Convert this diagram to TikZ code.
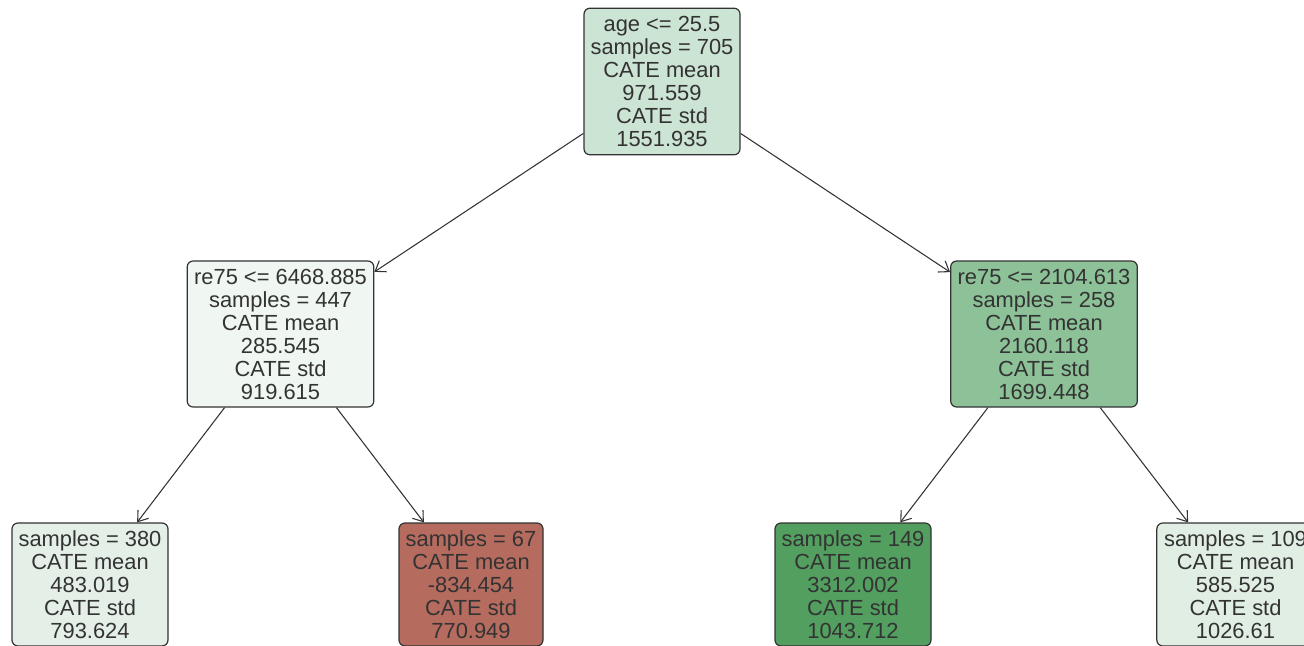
\documentclass[tikz,border=0pt]{standalone}
\usepackage{fontspec}
\setmainfont{Liberation Sans}
\usetikzlibrary{arrows.meta}

\definecolor{rootfill}{RGB}{204,228,212}
\definecolor{leftfill}{RGB}{240,246,241}
\definecolor{rightfill}{RGB}{141,193,151}
\definecolor{llfill}{RGB}{228,240,231}
\definecolor{lrfill}{RGB}{181,107,94}
\definecolor{rlfill}{RGB}{82,159,96}
\definecolor{rrfill}{RGB}{225,238,228}
\definecolor{inkgray}{RGB}{51,51,51}

\begin{document}
\begin{tikzpicture}[x=0.75pt,y=-0.75pt,
  treenode/.style={rectangle,draw=inkgray,rounded corners=4.5pt,line width=0.9pt,
    align=center,text=inkgray,inner sep=0pt,font=\fontsize{16.4}{17.25}\selectfont},
  split/.style={draw=inkgray,line width=0.8pt,-{Straight Barb[length=7pt,width=10pt]}}]
\useasboundingbox (0,0) rectangle (1304,646);
\clip (0,0) rectangle (1304,646);
\node (root)  at (662,81.5)  [treenode,fill=rootfill,minimum width=117pt,minimum height=110pt]
  {age <= 25.5\\samples = 705\\CATE mean\\971.559\\CATE std\\1551.935};
\node (left)  at (280.5,334) [treenode,fill=leftfill,minimum width=140pt,minimum height=109.5pt]
  {re75 <= 6468.885\\samples = 447\\CATE mean\\285.545\\CATE std\\919.615};
\node (right) at (1044,334)  [treenode,fill=rightfill,minimum width=140pt,minimum height=109.5pt]
  {re75 <= 2104.613\\samples = 258\\CATE mean\\2160.118\\CATE std\\1699.448};
\node (leftleft)   at (90,584.5)   [treenode,fill=llfill,minimum width=117pt,minimum height=92.25pt]
  {samples = 380\\CATE mean\\483.019\\CATE std\\793.624};
\node (leftright)  at (471,584.5)  [treenode,fill=lrfill,minimum width=108pt,minimum height=92.25pt]
  {samples = 67\\CATE mean\\-834.454\\CATE std\\770.949};
\node (rightleft)  at (853,584.5)  [treenode,fill=rlfill,minimum width=117pt,minimum height=92.25pt]
  {samples = 149\\CATE mean\\3312.002\\CATE std\\1043.712};
\node (rightright) at (1235.5,584.5) [treenode,fill=rrfill,minimum width=118pt,minimum height=92.25pt]
  {samples = 109\\CATE mean\\585.525\\CATE std\\1026.61};
\draw [split] (root)  to (left);
\draw [split] (root)  to (right);
\draw [split] (left)  to (leftleft);
\draw [split] (left)  to (leftright);
\draw [split] (right) to (rightleft);
\draw [split] (right) to (rightright);
\end{tikzpicture}
\end{document}
